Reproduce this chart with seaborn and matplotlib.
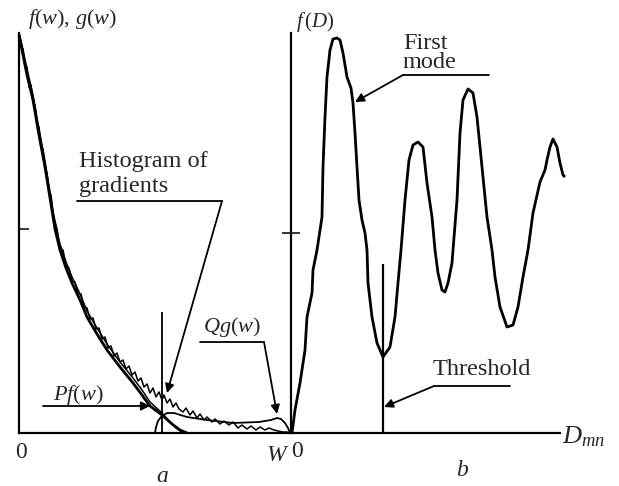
import matplotlib
matplotlib.use("Agg")
import matplotlib.pyplot as plt
import seaborn as sns
import numpy as np

sns.set_style("white")
plt.rcParams['font.family'] = ['Liberation Serif', 'DejaVu Serif']
plt.rcParams['mathtext.fontset'] = 'custom'
plt.rcParams['mathtext.rm'] = 'Liberation Serif'
plt.rcParams['mathtext.it'] = 'Liberation Serif:italic'
plt.rcParams['mathtext.default'] = 'it'

# ---------------- Panel a: gradient distributions (arbitrary units) ----------------
pf_w = [0, 3, 8, 14, 20, 26, 31, 36, 41, 47, 53, 61, 68, 78, 88, 101, 114, 123, 131, 143, 153, 161, 168]
pf_v = [398, 383, 358, 333, 298, 266, 235, 204, 183, 165, 150, 133, 116, 99, 83, 66, 50, 38, 27, 18, 9, 3, 0]

f_w = [0, 3, 8, 14, 20, 26, 31, 36, 41, 47, 53, 61, 68, 78, 88, 101, 114, 123, 131, 143, 150, 157, 164]
f_v = [400, 388, 364, 338, 304, 272, 241, 210, 189, 171, 156, 139, 122, 105, 89, 71, 55, 43, 31, 20, 12, 5, 0]

hist_w = [0, 2, 4, 6, 8, 10, 12, 14, 16, 18, 20, 22, 24, 26, 28, 30, 32, 34, 36, 38, 41, 44, 47, 50,
          53, 56, 59, 62, 65, 68, 71, 74, 77, 80, 83, 86, 89, 92, 95, 98, 101, 104, 107, 110, 113, 116,
          119, 122, 125, 128, 131, 134, 137, 140, 143, 145, 148, 151, 154, 157, 160, 164, 167, 171, 174,
          178, 181, 185, 188, 193, 196, 201, 205, 210, 214, 219, 223, 228, 232, 237, 241, 246, 250, 255,
          259, 264, 268, 271]
hist_v = [400, 386, 384, 366, 366, 346, 348, 330, 328, 308, 306, 286, 284, 264, 260, 242, 238, 220, 212,
          204, 185, 183, 167, 165, 152, 151, 139, 139, 126, 125, 114, 115, 104, 105, 94, 96, 85, 87, 77,
          80, 71, 73, 64, 67, 58, 61, 52, 55, 46, 49, 40, 45, 36, 41, 33, 38, 30, 34, 26, 30, 24, 21, 25,
          18, 22, 15, 19, 13, 16, 11, 14, 9, 12, 8, 11, 5, 8, 4, 7, 3, 6, 3, 5, 3, 2, 1, 1, 0]

qg_w = [136, 137, 139, 142, 145, 148, 155, 168, 188, 214, 240, 252, 258, 262, 266, 269, 271]
qg_v = [0, 6, 12, 16, 18, 20, 20, 16, 13, 10, 11, 13, 15, 14, 10, 5, 0]

split_w = [143, 143]
split_v = [0, 121]

# ---------------- Panel b: distance histogram (arbitrary units) ----------------
d_x = [0, 3, 8, 13, 15, 20, 21, 25, 30, 31, 33, 35, 38, 41, 45, 48, 51, 55, 59, 61, 63, 65, 67, 70, 73,
       75, 76, 80, 85, 91, 98, 103, 106, 109, 113, 117, 121, 126, 131, 135, 140, 143, 146, 150, 153, 156,
       160, 161, 165, 168, 171, 176, 181, 185, 190, 195, 200, 203, 208, 215, 221, 226, 231, 236, 241, 248,
       253, 255, 258, 261, 265, 268, 271, 273]
d_v = [0, 23, 50, 83, 116, 140, 163, 183, 216, 266, 316, 356, 383, 394, 395, 393, 380, 356, 345, 330, 300,
       266, 233, 213, 200, 183, 150, 116, 90, 76, 86, 116, 150, 183, 233, 273, 288, 291, 286, 250, 216,
       183, 160, 143, 141, 150, 170, 183, 233, 300, 333, 344, 340, 316, 266, 216, 183, 156, 126, 106, 108,
       126, 156, 183, 220, 251, 263, 273, 286, 294, 286, 270, 258, 256]

thr_x = [91, 91]
thr_v = [0, 169]

fig = plt.figure(figsize=(6.19, 4.86), dpi=100)
axa = fig.add_axes([19/619, 53/486, 272/619, 400/486])
axb = fig.add_axes([291/619, 53/486, 269/619, 400/486])

for ax in (axa, axb):
    ax.set_facecolor('none')
    for s in ('top', 'right'):
        ax.spines[s].set_visible(False)
    for s in ('left', 'bottom'):
        ax.spines[s].set_linewidth(1.6)
        ax.spines[s].set_color('black')
    ax.set_xticks([])
    ax.set_ylim(0, 400)

axa.set_xlim(0, 272)
axb.set_xlim(-1, 268)

kw = dict(sort=False, estimator=None, color='black', legend=False)
sns.lineplot(x=f_w, y=f_v, ax=axa, lw=1.1, **kw)
sns.lineplot(x=hist_w, y=hist_v, ax=axa, lw=1.1, **kw)
sns.lineplot(x=pf_w, y=pf_v, ax=axa, lw=2.0, **kw)
sns.lineplot(x=qg_w, y=qg_v, ax=axa, lw=1.3, **kw)
sns.lineplot(x=split_w, y=split_v, ax=axa, lw=1.3, **kw)

sns.lineplot(x=d_x, y=d_v, ax=axb, lw=2.0, **kw)
sns.lineplot(x=thr_x, y=thr_v, ax=axb, lw=1.6, **kw)
for ax in (axa, axb):
    for ln in ax.lines:
        ln.set_clip_on(False)
        ln.set_solid_joinstyle('round')
        ln.set_solid_capstyle('butt')
    ax.set_xlabel('')
    ax.set_ylabel('')

axa.set_yticks([204])
axa.tick_params(axis='y', direction='in', length=7.5, width=1.3, labelleft=False, left=True)
axb.set_yticks([200])
axb.tick_params(axis='y', direction='inout', length=12.5, width=1.3, labelleft=False, left=True)

# ---------------- Text ----------------
FS = 17.5
arrow = dict(arrowstyle='-|>', color='black', lw=1.3, mutation_scale=13, shrinkA=0, shrinkB=0)

axa.text(9, 409, r'$f\mathrm{(}w\mathrm{),}\,g\mathrm{(}w\mathrm{)}$', fontsize=16, va='baseline', ha='left', clip_on=False)
axa.text(60, 266, 'Histogram of', fontsize=FS, va='baseline', ha='left')
axa.text(60, 241, 'gradients', fontsize=FS, va='baseline', ha='left')
axa.plot([58, 203], [232, 232], color='black', lw=1.3, clip_on=False)
axa.annotate('', xy=(148, 40), xytext=(203, 232), arrowprops=arrow)

axa.text(34, 33, r'$Pf\mathrm{(}w\mathrm{)}$', fontsize=16, va='baseline', ha='left')
axa.annotate('', xy=(131, 27), xytext=(24, 27), arrowprops=arrow)

axa.text(184, 101, r'$Qg\mathrm{(}w\mathrm{)}$', fontsize=16, va='baseline', ha='left')
axa.plot([181, 245], [91, 91], color='black', lw=1.3, clip_on=False)
axa.annotate('', xy=(258, 19), xytext=(245, 91), arrowprops=arrow)

axa.text(2, -19, '0', fontsize=17, ha='center', va='center', clip_on=False)
axa.text(259, -22, r'$W$', fontsize=17, ha='center', va='center', clip_on=False)
axa.text(143, -43, r'$a$', fontsize=17, ha='center', va='center', clip_on=False)

axb.text(4, 406, r'$f\,\mathrm{(}D\mathrm{)}$', fontsize=15, va='baseline', ha='left', clip_on=False)
axb.text(111, 384, 'First', fontsize=FS, va='baseline', ha='left')
axb.text(111, 365, 'mode', fontsize=FS, va='baseline', ha='left')
axb.plot([111, 197], [358, 358], color='black', lw=1.3, clip_on=False)
axb.annotate('', xy=(63, 331), xytext=(111, 358), arrowprops=arrow)

axb.text(141, 58, 'Threshold', fontsize=FS, va='baseline', ha='left')
axb.plot([142, 218], [47, 47], color='black', lw=1.3, clip_on=False)
axb.annotate('', xy=(92, 26), xytext=(142, 47), arrowprops=arrow)

axb.text(5, -18, '0', fontsize=17, ha='center', va='center', clip_on=False)
axb.text(270, -10, r'$D_{mn}$', fontsize=19, ha='left', va='baseline', clip_on=False)
axb.text(171, -37, r'$b$', fontsize=17, ha='center', va='center', clip_on=False)

fig.savefig('out.png', dpi=100, facecolor='white')
